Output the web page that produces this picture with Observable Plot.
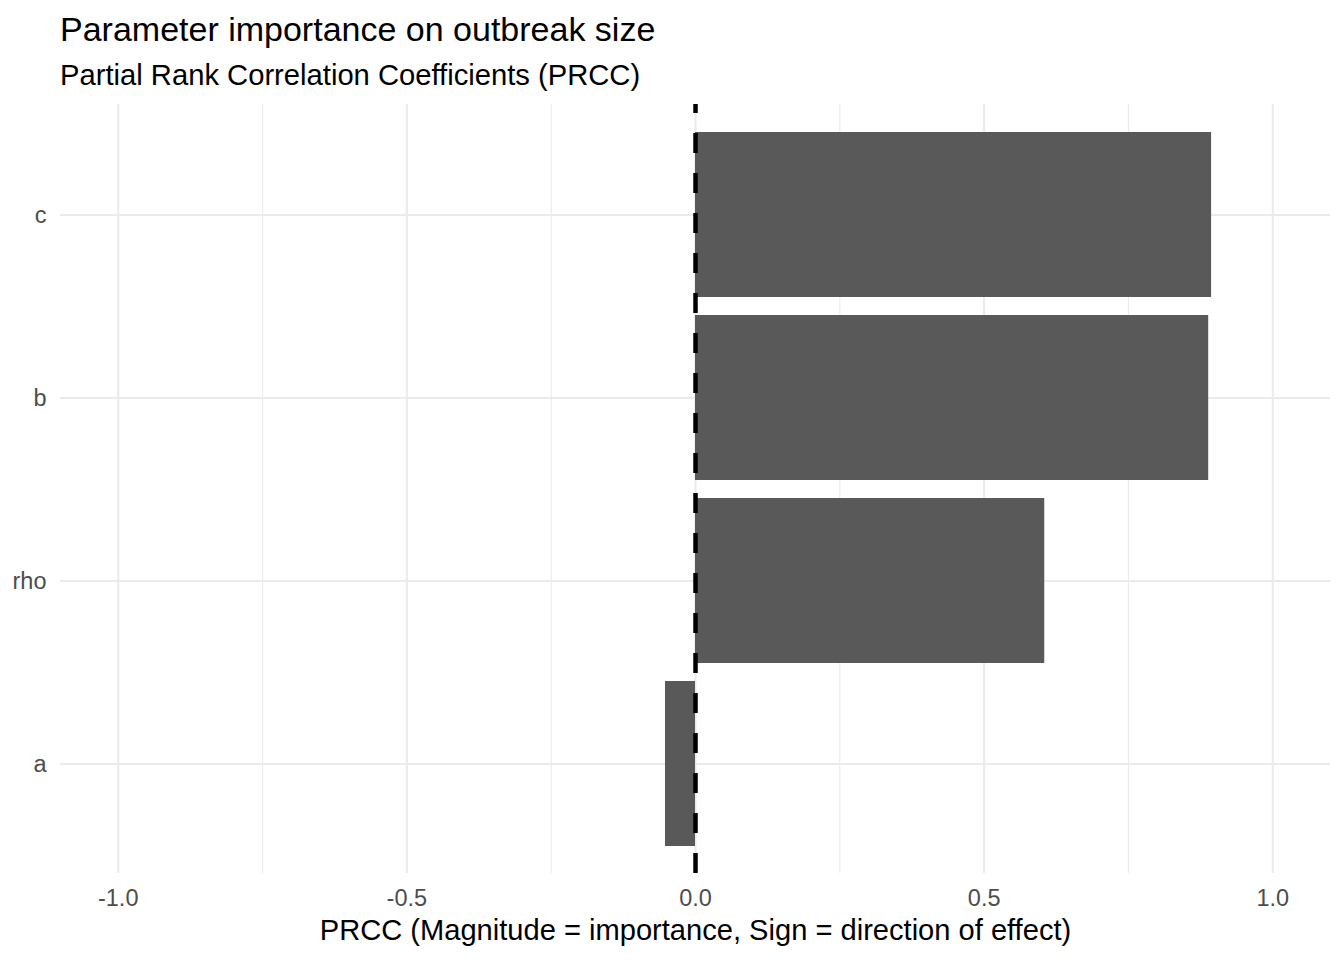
<!DOCTYPE html>
<html>
<head>
<meta charset="utf-8">
<script src="https://cdn.jsdelivr.net/npm/d3@7"></script>
<script src="https://cdn.jsdelivr.net/npm/@observablehq/plot@0.6"></script>
<style>
  html, body { margin: 0; padding: 0; background: white; }
  body { width: 1344px; height: 960px; overflow: hidden; font-family: "Liberation Sans", Arial, sans-serif; }
  #header { position: relative; height: 94px; width: 1344px; }
  #title { position: absolute; left: 60px; top: 12px; font-size: 34px; line-height: 34px; color: #000; white-space: nowrap; }
  #subtitle { position: absolute; left: 60px; top: 61px; font-size: 29.2px; line-height: 29.2px; color: #000; white-space: nowrap; }
  svg { display: block; }
</style>
</head>
<body>
<div id="header">
  <div id="title">Parameter importance on outbreak size</div>
  <div id="subtitle">Partial Rank Correlation Coefficients (PRCC)</div>
</div>
<div id="chart"></div>
<script>
const params = ["c", "b", "rho", "a"];
const prcc = [0.894, 0.889, 0.605, -0.052];
const majorTicks = [-1, -0.5, 0, 0.5, 1];
const minorTicks = [-0.75, -0.25, 0.25, 0.75];
const xLabel = "PRCC (Magnitude = importance, Sign = direction of effect)";

const data = params.map((p, i) => ({param: p, value: prcc[i]}));
const font = '"Liberation Sans", Arial, sans-serif';

const chart = Plot.plot({
  width: 1344,
  height: 866,
  marginTop: 10,
  marginBottom: 87,
  marginLeft: 60,
  marginRight: 14,
  style: {fontFamily: font, background: "white"},
  x: {domain: [-1.1, 1.1]},
  y: {type: "band", domain: params, paddingInner: 0.1, paddingOuter: 0.15, align: 0.5},
  marks: [
    Plot.ruleX(minorTicks, {stroke: "#ebebeb", strokeWidth: 1.1}),
    Plot.ruleX(majorTicks, {stroke: "#ebebeb", strokeWidth: 2.1}),
    Plot.gridY({stroke: "#ebebeb", strokeWidth: 2.1, strokeOpacity: 1}),
    Plot.barX(data, {x: "value", y: "param", fill: "#595959"}),
    Plot.ruleX([0], {stroke: "black", strokeWidth: 4.5, strokeDasharray: "20,20", strokeDashoffset: 11}),
    Plot.axisX(majorTicks, {tickSize: 0, tickPadding: 16, tickFormat: d => d.toFixed(1), fontSize: 23.5, fill: "#4d4d4d", label: null}),
    Plot.axisY({tickSize: 0, tickPadding: 14, fontSize: 23.5, fill: "#4d4d4d", label: null}),
    Plot.text([xLabel], {text: d => d, frameAnchor: "bottom", lineAnchor: "middle", dy: 57, fontSize: 29.1, fill: "black", textAnchor: "middle"})
  ]
});
document.getElementById("chart").appendChild(chart);
</script>
</body>
</html>
